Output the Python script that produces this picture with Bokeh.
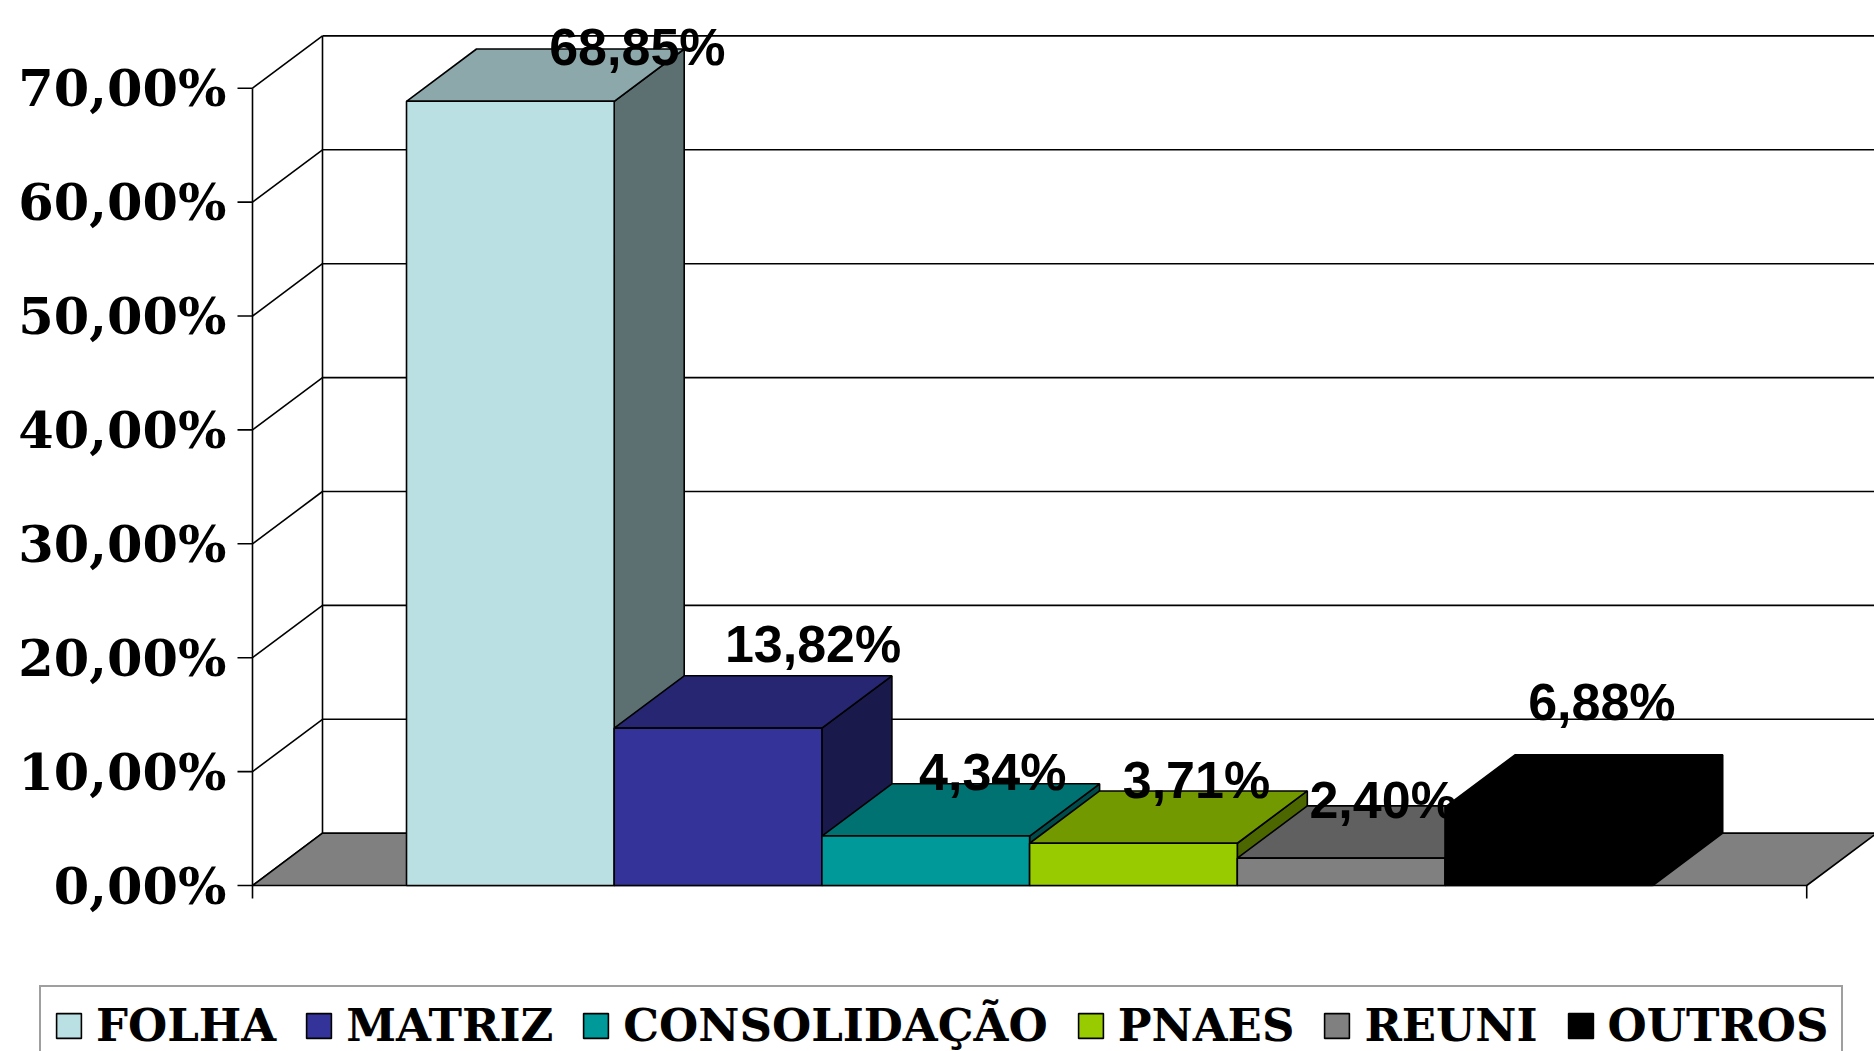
from bokeh.plotting import figure
from bokeh.models import Range1d, Legend, LegendItem, ColumnDataSource
from bokeh.embed import file_html
from bokeh.resources import INLINE
from bokeh.core.properties import value

# ---------------- data ----------------
categories = ["FOLHA", "MATRIZ", "CONSOLIDAÇÃO", "PNAES", "REUNI", "OUTROS"]
values = [68.85, 13.82, 4.34, 3.71, 2.40, 6.88]
value_labels = ["68,85%", "13,82%", "4,34%", "3,71%", "2,40%", "6,88%"]
y_ticks = [0, 10, 20, 30, 40, 50, 60, 70]
y_tick_labels = ["0,00%", "10,00%", "20,00%", "30,00%", "40,00%", "50,00%", "60,00%", "70,00%"]

# ---------------- style / layout ----------------
colors = ["#BBE0E3", "#333399", "#009999", "#99CC00", "#808080", "#000000"]
W, H = 1874, 1051
AXIS_PX = 252             # pixel column of the front value axis
ZERO_PX = 885             # pixel row of 0 %
PX_X = 207.7              # pixels per category width
PX_Y = 11.39              # pixels per percent
GAP = 0.7415              # empty floor on each side (in category widths)
DX = 70.0 / PX_X          # 3-D depth offset, x (data units)
DY = 52.3 / PX_Y          # 3-D depth offset, y (data units)
YTICK = 15.0 / PX_X       # value-axis tick length
XTICK = 13.0 / PX_Y       # category-axis tick length
LW = 1.6
label_xoff = [57, 25, -3, -7, -28, -17]
label_yoff = [-1.5, -32, -11.6, -10.5, -5.4, -52.7]


def shade(hexcol, f):
    h = hexcol.lstrip("#")
    r, g, b = (int(h[i:i + 2], 16) for i in (0, 2, 4))
    return "#%02x%02x%02x" % (int(r * f), int(g * f), int(b * f))


n = len(categories)
ymax = y_ticks[-1]
x_left = -GAP
x_right = n + GAP

p = figure(width=W, height=H, output_backend="svg", toolbar_location=None,
           x_axis_location=None, y_axis_location=None,
           min_border_left=0, min_border_right=0, min_border_top=0,
           min_border_bottom=0,
           x_range=Range1d(x_left - AXIS_PX / PX_X, x_left + (W - AXIS_PX) / PX_X),
           y_range=Range1d(-(H - ZERO_PX) / PX_Y, ZERO_PX / PX_Y))
p.outline_line_color = None
p.grid.visible = False
p.background_fill_color = "white"
p.border_fill_color = "white"

# ---------------- walls & floor ----------------
far_right = x_right + DX + 2
k = len(y_ticks)
p.segment(x0=[x_left + DX] * k, y0=[t + DY for t in y_ticks],
          x1=[far_right] * k, y1=[t + DY for t in y_ticks],
          line_color="black", line_width=LW)
p.segment(x0=[x_left] * k, y0=y_ticks,
          x1=[x_left + DX] * k, y1=[t + DY for t in y_ticks],
          line_color="black", line_width=LW)
p.segment(x0=[x_left + DX], y0=[DY], x1=[x_left + DX], y1=[ymax + DY],
          line_color="black", line_width=LW)
p.patch(x=[x_left, x_right, x_right + DX, x_left + DX],
        y=[0, 0, DY, DY], fill_color="#808080", line_color="black", line_width=LW)

# ---------------- axes (front value axis + category-axis end ticks) ----------------
p.segment(x0=[x_left], y0=[0], x1=[x_left], y1=[ymax], line_color="black", line_width=LW)
p.segment(x0=[x_left - YTICK] * k, y0=y_ticks, x1=[x_left] * k, y1=y_ticks,
          line_color="black", line_width=LW)
p.segment(x0=[x_left, x_right], y0=[0, 0], x1=[x_left, x_right], y1=[-XTICK, -XTICK],
          line_color="black", line_width=LW)
p.text(x=[x_left] * k, y=y_ticks, text=y_tick_labels, x_offset=-26,
       text_align="right", text_baseline="middle",
       text_font=value("DejaVu Serif"), text_font_style="bold",
       text_font_size="51px", text_color="black")

# ---------------- 3-D bars ----------------
xs_side, ys_side, xs_top, ys_top = [], [], [], []
for i, v in enumerate(values):
    xs_side.append([i + 1, i + 1 + DX, i + 1 + DX, i + 1])
    ys_side.append([0, DY, v + DY, v])
    xs_top.append([i, i + 1, i + 1 + DX, i + DX])
    ys_top.append([v, v, v + DY, v + DY])

p.patches(xs=xs_side, ys=ys_side, fill_color=[shade(c, 0.5) for c in colors],
          line_color="black", line_width=LW)
p.patches(xs=xs_top, ys=ys_top, fill_color=[shade(c, 0.75) for c in colors],
          line_color="black", line_width=LW)
src = ColumnDataSource(dict(left=list(range(n)), right=[i + 1 for i in range(n)],
                            top=values, bottom=[0] * n, color=colors))
fronts = p.quad(left="left", right="right", top="top", bottom="bottom", source=src,
                fill_color="color", line_color="black", line_width=LW)

# ---------------- value labels ----------------
lsrc = ColumnDataSource(dict(x=[i + 0.5 + DX for i in range(n)],
                             y=[v + DY for v in values],
                             text=value_labels, xo=label_xoff, yo=label_yoff))
p.text(x="x", y="y", text="text", x_offset="xo", y_offset="yo", source=lsrc,
       text_align="center", text_baseline="alphabetic",
       text_font=value("Liberation Sans"), text_font_style="bold",
       text_font_size="52px", text_color="black")

# ---------------- legend ----------------
legend = Legend(items=[LegendItem(label=c, renderers=[fronts], index=i)
                       for i, c in enumerate(categories)],
                orientation="horizontal", location=(39, -15), margin=0,
                padding=12, spacing=27, label_standoff=12,
                glyph_width=31, glyph_height=31,
                label_text_font="DejaVu Serif", label_text_font_style="bold",
                label_text_font_size="45px", label_text_color="black",
                border_line_color="#404040", border_line_width=2,
                background_fill_color="white", background_fill_alpha=1.0)
p.add_layout(legend, "center")

open("out.html", "w").write(file_html(p, INLINE))
